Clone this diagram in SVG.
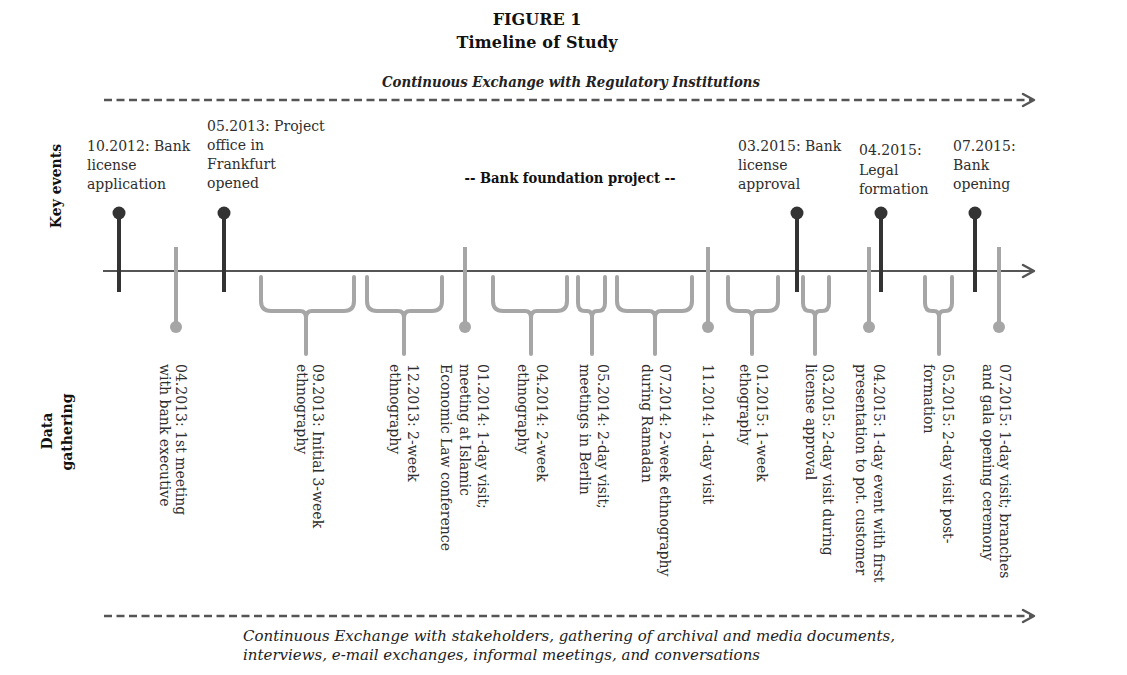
<svg xmlns="http://www.w3.org/2000/svg" width="1127" height="675" viewBox="0 0 1127 675">
<style>
text{font-family:"DejaVu Serif","Liberation Serif",serif;fill:#2e2e2e}
.t{font-size:14px}
.r{font-size:14px}
.b{font-weight:bold;fill:#111}
.bi{font-weight:bold;font-style:italic;fill:#222}
.it{font-style:italic;font-size:14px;fill:#222}
.dash{stroke:#555;stroke-width:2.5;stroke-dasharray:8 4.5;fill:none}
.arr{stroke:#555;stroke-width:2.5;fill:none;stroke-linecap:round;stroke-linejoin:round}
.axis{stroke:#555;stroke-width:2;fill:none}
.dk{stroke:#333;stroke-width:4;fill:none}
.dkc{fill:#333}
.gy{stroke:#a6a6a6;stroke-width:4;fill:none}
.gyc{fill:#a6a6a6}
.br{stroke:#a6a6a6;stroke-width:4;fill:none;stroke-linejoin:round;stroke-linecap:round}
</style>
<rect width="1127" height="675" fill="#fff"/>

<g id="title">
<text class="b" x="537" y="25" font-size="16" text-anchor="middle">FIGURE 1</text>
<text class="b" x="537" y="48" font-size="16" text-anchor="middle" textLength="161">Timeline of Study</text>
<text class="bi" x="571" y="87" font-size="14" text-anchor="middle" textLength="378" lengthAdjust="spacingAndGlyphs">Continuous Exchange with Regulatory Institutions</text>
</g>

<g id="row-labels">
<text class="b" font-size="14" text-anchor="middle" transform="translate(61,186) rotate(-90)">Key events</text>
<text class="b" font-size="14" text-anchor="middle" transform="translate(52,431) rotate(-90)">Data</text>
<text class="b" font-size="14" text-anchor="middle" transform="translate(72,432) rotate(-90)">gathering</text>
</g>

<g id="connectors">
<line class="dash" x1="104" y1="100" x2="1033" y2="100"/>
<polyline class="arr" points="1023,94 1034,100 1023,106"/>
<line class="axis" x1="103" y1="271" x2="1034" y2="271"/>
<polyline class="arr" points="1023,265 1034,271 1023,277"/>
<line class="dash" x1="104" y1="616" x2="1033" y2="616"/>
<polyline class="arr" points="1023,610 1034,616 1023,622"/>
</g>

<g id="project-label">
<text class="b" x="570" y="183" font-size="14" text-anchor="middle" textLength="211" lengthAdjust="spacingAndGlyphs" fill="#222">-- Bank foundation project --</text>
</g>

<g id="ke-2012-10">
<line class="dk" x1="119" y1="213" x2="119" y2="292"/><circle class="dkc" cx="119" cy="213" r="6.5"/>
<text class="t"><tspan x="87" y="151">10.2012: Bank</tspan><tspan x="87" y="170">license</tspan><tspan x="87" y="189">application</tspan></text>
</g>
<g id="ke-2013-05">
<line class="dk" x1="224" y1="213" x2="224" y2="292"/><circle class="dkc" cx="224" cy="213" r="6.5"/>
<text class="t"><tspan x="207" y="131">05.2013: Project</tspan><tspan x="207" y="150">office in</tspan><tspan x="207" y="169">Frankfurt</tspan><tspan x="207" y="188">opened</tspan></text>
</g>
<g id="ke-2015-03">
<line class="dk" x1="797" y1="213" x2="797" y2="292"/><circle class="dkc" cx="797" cy="213" r="6.5"/>
<text class="t"><tspan x="738" y="151">03.2015: Bank</tspan><tspan x="738" y="170">license</tspan><tspan x="738" y="189">approval</tspan></text>
</g>
<g id="ke-2015-04">
<line class="dk" x1="881" y1="213" x2="881" y2="292"/><circle class="dkc" cx="881" cy="213" r="6.5"/>
<text class="t"><tspan x="859" y="155">04.2015:</tspan><tspan x="859" y="175">Legal</tspan><tspan x="859" y="194">formation</tspan></text>
</g>
<g id="ke-2015-07">
<line class="dk" x1="975" y1="213" x2="975" y2="292"/><circle class="dkc" cx="975" cy="213" r="6.5"/>
<text class="t"><tspan x="953" y="151">07.2015:</tspan><tspan x="953" y="170">Bank</tspan><tspan x="953" y="189">opening</tspan></text>
</g>

<g id="dg-2013-04">
<line class="gy" x1="176" y1="247" x2="176" y2="327"/><circle class="gyc" cx="176" cy="327" r="6"/>
<text class="r" transform="translate(176,364) rotate(90)">04.2013: 1st meeting</text>
<text class="r" transform="translate(160,364) rotate(90)">with bank executive</text>
</g>
<g id="dg-2013-09">
<path class="br" d="M261,277 V301 Q261,311 271,311 H300 Q306,311 306,318 V354 M306,318 Q306,311 312,311 H344 Q354,311 354,301 V277"/>
<text class="r" transform="translate(313,364) rotate(90)">09.2013: Initial 3-week</text>
<text class="r" transform="translate(297,364) rotate(90)">ethnography</text>
</g>
<g id="dg-2013-12">
<path class="br" d="M367,277 V301 Q367,311 377,311 H398 Q404,311 404,318 V354 M404,318 Q404,311 410,311 H432 Q442,311 442,301 V277"/>
<text class="r" transform="translate(408,364) rotate(90)">12.2013: 2-week</text>
<text class="r" transform="translate(390,364) rotate(90)">ethnography</text>
</g>
<g id="dg-2014-01">
<line class="gy" x1="465" y1="247" x2="465" y2="327"/><circle class="gyc" cx="465" cy="327" r="6"/>
<text class="r" transform="translate(478,364) rotate(90)">01.2014: 1-day visit;</text>
<text class="r" transform="translate(460,364) rotate(90)">meeting at Islamic</text>
<text class="r" transform="translate(441,364) rotate(90)">Economic Law conference</text>
</g>
<g id="dg-2014-04">
<path class="br" d="M493,277 V301 Q493,311 503,311 H525 Q531,311 531,318 V354 M531,318 Q531,311 537,311 H557 Q567,311 567,301 V277"/>
<text class="r" transform="translate(537,364) rotate(90)">04.2014: 2-week</text>
<text class="r" transform="translate(518,364) rotate(90)">ethnography</text>
</g>
<g id="dg-2014-05">
<path class="br" d="M578,277 V303 Q578,311 585,311 H587 Q592,311 592,317 V354 M592,317 Q592,311 597,311 H598 Q605,311 605,303 V277"/>
<text class="r" transform="translate(598,364) rotate(90)">05.2014: 2-day visit;</text>
<text class="r" transform="translate(580,364) rotate(90)">meetings in Berlin</text>
</g>
<g id="dg-2014-07">
<path class="br" d="M617,277 V301 Q617,311 627,311 H649 Q655,311 655,318 V354 M655,318 Q655,311 661,311 H682 Q692,311 692,301 V277"/>
<text class="r" transform="translate(660,364) rotate(90)">07.2014: 2-week ethnography</text>
<text class="r" transform="translate(642,364) rotate(90)">during Ramadan</text>
</g>
<g id="dg-2014-11">
<line class="gy" x1="708" y1="247" x2="708" y2="327"/><circle class="gyc" cx="708" cy="327" r="6"/>
<text class="r" transform="translate(703,364) rotate(90)">11.2014: 1-day visit</text>
</g>
<g id="dg-2015-01">
<path class="br" d="M728,277 V301 Q728,311 738,311 H746 Q752,311 752,318 V354 M752,318 Q752,311 758,311 H768 Q778,311 778,301 V277"/>
<text class="r" transform="translate(757,364) rotate(90)">01.2015: 1-week</text>
<text class="r" transform="translate(740,364) rotate(90)">ethography</text>
</g>
<g id="dg-2015-03">
<path class="br" d="M803,277 V303 Q803,311 810,311 H810 Q815,311 815,317 V354 M815,317 Q815,311 820,311 H822 Q829,311 829,303 V277"/>
<text class="r" transform="translate(823,364) rotate(90)">03.2015: 2-day visit during</text>
<text class="r" transform="translate(806,364) rotate(90)">license approval</text>
</g>
<g id="dg-2015-04">
<line class="gy" x1="869" y1="247" x2="869" y2="327"/><circle class="gyc" cx="869" cy="327" r="6"/>
<text class="r" transform="translate(874,364) rotate(90)">04.2015: 1-day event with first</text>
<text class="r" transform="translate(856,364) rotate(90)">presentation to pot. customer</text>
</g>
<g id="dg-2015-05">
<path class="br" d="M925,277 V303 Q925,311 932,311 H934 Q939,311 939,317 V354 M939,317 Q939,311 944,311 H945 Q952,311 952,303 V277"/>
<text class="r" transform="translate(943,364) rotate(90)">05.2015: 2-day visit post-</text>
<text class="r" transform="translate(924,364) rotate(90)">formation</text>
</g>
<g id="dg-2015-07">
<line class="gy" x1="999" y1="247" x2="999" y2="327"/><circle class="gyc" cx="999" cy="327" r="6"/>
<text class="r" transform="translate(1000,364) rotate(90)">07.2015: 1-day visit; branches</text>
<text class="r" transform="translate(983,364) rotate(90)">and gala opening ceremony</text>
</g>

<g id="bottom-note">
<text class="it" x="243" y="641" textLength="652" lengthAdjust="spacingAndGlyphs">Continuous Exchange with stakeholders, gathering of archival and media documents,</text>
<text class="it" x="243" y="660" textLength="517" lengthAdjust="spacingAndGlyphs">interviews, e-mail exchanges, informal meetings, and conversations</text>
</g>
</svg>
